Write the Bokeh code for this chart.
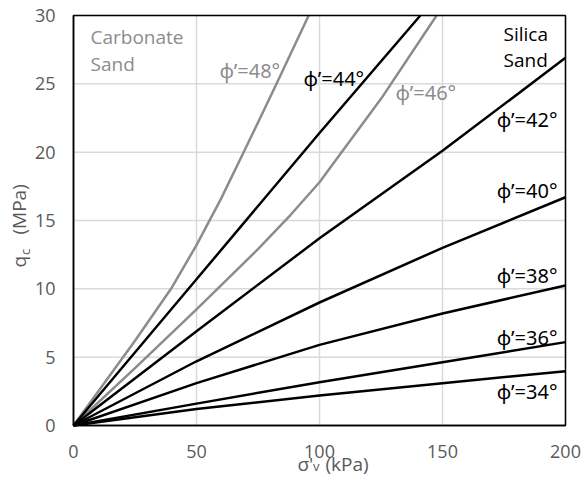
import numpy as np
from bokeh.plotting import figure
from bokeh.models import Range1d, Label, FixedTicker
from bokeh.embed import file_html
from bokeh.resources import INLINE

# ---------------- data ----------------
sv_silica = [0, 50, 100, 150, 200]           # sigma'_v (kPa)
qc_34 = [0, 1.2, 2.2, 3.1, 3.97]             # qc (MPa)
qc_36 = [0, 1.6, 3.17, 4.63, 6.1]
qc_38 = [0, 3.1, 5.9, 8.2, 10.24]
qc_40 = [0, 4.7, 9.0, 13.0, 16.7]
qc_42 = [0, 6.9, 13.7, 20.1, 26.9]
sv_44 = [0, 50, 100, 141]
qc_44 = [0, 10.7, 21.4, 30]
sv_46 = [0, 25, 50, 75, 88.2, 100, 125, 147.6]
qc_46 = [0, 4.2, 8.5, 12.9, 15.4, 17.8, 23.9, 30]
sv_48 = [0, 25, 40, 50, 60, 70, 82, 95.6]
qc_48 = [0, 6.2, 10.1, 13.2, 16.6, 20.3, 24.8, 30]

x_ticks = [0, 50, 100, 150, 200]
y_ticks = [0, 5, 10, 15, 20, 25, 30]

black_series = [(sv_silica, qc_34), (sv_silica, qc_36), (sv_silica, qc_38),
                (sv_silica, qc_40), (sv_silica, qc_42), (sv_44, qc_44)]
gray_series = [(sv_46, qc_46), (sv_48, qc_48)]

phi = "\u03d5\u2019="
right_labels = [phi + "42\u00b0", phi + "40\u00b0", phi + "38\u00b0",
                phi + "36\u00b0", phi + "34\u00b0"]

FONT = "Open Sans"
PFONT = "Noto Sans"
FS = "19px"
PFS = "20px"
TFS = "18px"
GRAY = "#8c8c8c"
TICK_COLOR = "#595959"

# ---------------- layout: plot box inside the 585x486 canvas ----------------
W, H = 585, 486
LEFT, RIGHT, TOP, BOTTOM = 73, 565, 15, 425          # pixel edges of the plot box
SX = (RIGHT - LEFT) / (x_ticks[-1] - x_ticks[0])
SY = (BOTTOM - TOP) / (y_ticks[-1] - y_ticks[0])

def px2x(px):
    return x_ticks[0] + (px - LEFT) / SX

def py2q(py):
    return y_ticks[0] + (BOTTOM - py) / SY

p = figure(width=W, height=H, output_backend="svg", toolbar_location=None,
           x_range=Range1d(px2x(0), px2x(W)), y_range=Range1d(py2q(H), py2q(0)),
           min_border=0)
p.background_fill_color = "white"
p.border_fill_color = "white"
p.outline_line_color = None
p.grid.visible = False

for ax in (p.xaxis, p.yaxis):
    ax.fixed_location = 0
    ax.axis_line_color = "black"
    ax.axis_line_width = 1.5
    ax.major_tick_out = 0
    ax.major_tick_in = 0
    ax.minor_tick_out = 0
    ax.minor_tick_in = 0
    ax.major_label_text_font = FONT
    ax.major_label_text_font_size = TFS
    ax.major_label_text_color = TICK_COLOR
p.xaxis.bounds = (x_ticks[0], x_ticks[-1])
p.yaxis.bounds = (y_ticks[0], y_ticks[-1])
p.xaxis.ticker = FixedTicker(ticks=x_ticks)
p.yaxis.ticker = FixedTicker(ticks=y_ticks)
p.xaxis.major_label_standoff = 19
p.yaxis.major_label_standoff = 18

# grid lines from the tick values
p.segment(x0=x_ticks, y0=[y_ticks[0]] * len(x_ticks), x1=x_ticks, y1=[y_ticks[-1]] * len(x_ticks),
          line_color="#d9d9d9", line_width=1.5)
p.segment(x0=[x_ticks[0]] * len(y_ticks), y0=y_ticks, x1=[x_ticks[-1]] * len(y_ticks), y1=y_ticks,
          line_color="#d9d9d9", line_width=1.5)

for xs, ys in gray_series:
    p.line(xs, ys, line_color=GRAY, line_width=2.5, line_join="round")
for xs, ys in black_series:
    p.line(xs, ys, line_color="black", line_width=2.5, line_join="round")

# plot-area border
p.quad(left=x_ticks[0], right=x_ticks[-1], bottom=y_ticks[0], top=y_ticks[-1],
       fill_color=None, line_color="black", line_width=1.5)

def add_label(txt, px, py, color="black", align="left", size=FS, angle=0.0, font=FONT):
    p.add_layout(Label(x=px2x(px), y=py2q(py), text=txt, text_font=font,
                       text_font_size=size, text_color=color, text_align=align,
                       text_baseline="middle", angle=angle))

for txt, py in zip(right_labels, [118.5, 190, 275, 336.5, 391]):
    add_label(txt, 557, py, align="right", size=PFS, font=PFONT)

add_label(phi + "48\u00b0", 219, 70, color=GRAY, size=PFS, font=PFONT)
add_label(phi + "44\u00b0", 303, 77.5, size=PFS, font=PFONT)
add_label(phi + "46\u00b0", 395, 92.3, color=GRAY, size=PFS, font=PFONT)

add_label("Carbonate", 90, 36.5, color=GRAY)
add_label("Sand", 90, 63.3, color=GRAY)
add_label("Silica", 503, 33.3)
add_label("Sand", 503, 59.2)

# axis titles (with subscripts)
add_label("\u03c3'", 297, 463, color=TICK_COLOR, size=FS)
add_label("v", 312.5, 465.5, color=TICK_COLOR, size="13px")
add_label("(kPa)", 325, 463, color=TICK_COLOR, size=FS)

add_label("q", 18, 267, color=TICK_COLOR, size=FS, angle=np.pi / 2)
add_label("c", 24, 254.5, color=TICK_COLOR, size="13px", angle=np.pi / 2)
add_label("(MPa)", 18, 234, color=TICK_COLOR, size=FS, angle=np.pi / 2)

open("out.html", "w").write(file_html(p, INLINE))
